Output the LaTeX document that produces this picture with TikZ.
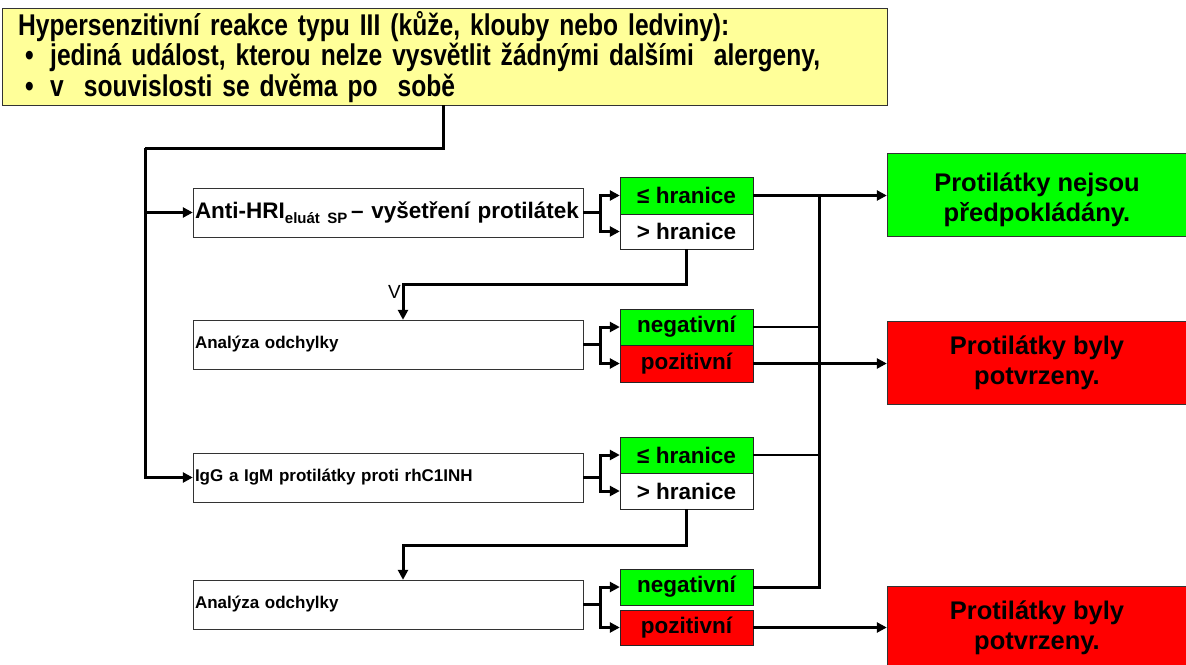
\documentclass[tikz,border=0pt]{standalone}
\usepackage{fontspec}
\setmainfont{Liberation Sans}
\newfontfamily\narrowfont[FakeStretch=0.82]{Liberation Sans}
\usetikzlibrary{arrows.meta,positioning}
\definecolor{notegelb}{HTML}{FFFF99}
\definecolor{okgreen}{HTML}{00FF00}
\definecolor{badred}{HTML}{FF0000}
\tikzset{
 stage/.style={draw=black!80,fill=white,minimum width=390pt,minimum height=49pt,
  text width=386pt,align=left,inner xsep=2pt,font=\bfseries\fontsize{17}{20}\selectfont},
 res/.style={draw=black!85,minimum width=133pt,minimum height=36pt,inner sep=0pt,
  font=\bfseries\fontsize{22.5}{25}\selectfont},
 outbox/.style={draw=black!80,minimum width=300pt,minimum height=83pt,align=center,
  font=\bfseries\fontsize{25.5}{30}\selectfont},
 main/.style={line width=3pt},
 lead/.style={line width=2.6pt},
}
\begin{document}
\begin{tikzpicture}[x=1pt,y=-1pt,>={Triangle[length=10pt,width=10pt]}]
\useasboundingbox (0,0) rectangle (1186,664);
% header
\node[draw=black!80,fill=notegelb,anchor=north west,minimum width=885pt,minimum height=97pt,
 text width=853pt,inner xsep=16pt,inner ysep=1pt,align=left,font=\narrowfont\bfseries\fontsize{30}{30.5}\selectfont]
 (top) at (2,8) {Hypersenzitivní reakce typu III (kůže, klouby nebo ledviny):\\
 \hspace*{7pt}\makebox[25pt][l]{•}jediná událost, kterou nelze vysvětlit žádnými dalšími\ \ alergeny,\\
 \hspace*{7pt}\makebox[25pt][l]{•}v\ \ souvislosti se dvěma po\ \ sobě};
% left column
\node[stage,font=\bfseries\fontsize{22.5}{24}\selectfont] (s1) at (388,212.5)
 {Anti-HRI\raisebox{-0.45ex}{\fontsize{15}{15}\selectfont eluát SP}\,– vyšetření protilátek};
\node[stage] (s2) at (388,344.5) {Analýza odchylky};
\node[stage] (s3) at (388,477.5) {IgG a IgM protilátky proti rhC1INH};
\node[stage] (s4) at (388,604.5) {Analýza odchylky};
% result boxes
\node[res,fill=okgreen,minimum height=37pt] (a1) at (686.5,195.5) {≤ hranice};
\node[res,fill=white,minimum height=35pt] (b1) at (686.5,231.5) {> hranice};
\node[res,fill=okgreen] (n1) at (686.5,327) {negativní};
\node[res,fill=badred,minimum height=37pt] (p1) at (686.5,363.5) {pozitivní};
\node[res,fill=okgreen] (a3) at (686.5,455) {≤ hranice};
\node[res,fill=white] (b3) at (686.5,491) {> hranice};
\node[res,fill=okgreen] (n4) at (686.5,587) {negativní};
\node[res,fill=badred,minimum height=35pt] (p4) at (686.5,627.5) {pozitivní};
% outcome boxes
\node[outbox,fill=okgreen] (o1) at (1037,194.5) {\rule{0pt}{30pt}Protilátky nejsou\\předpokládány.};
\node[outbox,fill=badred] (o2) at (1037,362.5) {Protilátky byly\\potvrzeny.};
\node[outbox,fill=badred] (o3) at (1037,627.5) {Protilátky byly\\potvrzeny.};
% spine
\coordinate (drop) at (443,148);
\coordinate (spine) at (145,148);
\draw[main] (top.south -| drop) -- (drop) -- (spine);
\draw[main,->] (spine) |- (s3.west);
\draw[main,->] (spine |- s1.west) -- (s1.west);
% forks
\foreach \s/\u/\l in {s1/a1/b1,s2/n1/p1,s3/a3/b3,s4/n4/p4}{
 \draw[main] (\s.east) -- ++(17,0) coordinate (f\s);
 \draw[main,->] (f\s) |- (\u.west);
 \draw[main,->] (f\s) |- (\l.west);
}
% down to deviation analysis
\coordinate (k1) at (403,284);
\coordinate (k3) at (403,545);
\draw[main,->] (b1.south) |- (k1) -- (k1 |- s2.north);
\draw[main,->] (b3.south) |- (k3) -- (k3 |- s4.north);
\node[anchor=north east,inner sep=1pt,font=\fontsize{19}{19}\selectfont] (vmark) at ([xshift=-1pt]k1) {V};
% bus to outcomes
\coordinate (bus) at (819,0);
\draw[lead,->] (a1.east) -- (a1.east -| o1.west);
\draw[main] (n4.east) -- (n4.east -| bus) -- (bus |- a1.east);
\draw[lead] (n1.east) -- (n1.east -| bus);
\draw[lead] (a3.east) -- (a3.east -| bus);
\draw[lead,->] (p1.east) -- (p1.east -| o2.west);
\draw[lead,->] (p4.east) -- (p4.east -| o3.west);
\end{tikzpicture}
\end{document}
